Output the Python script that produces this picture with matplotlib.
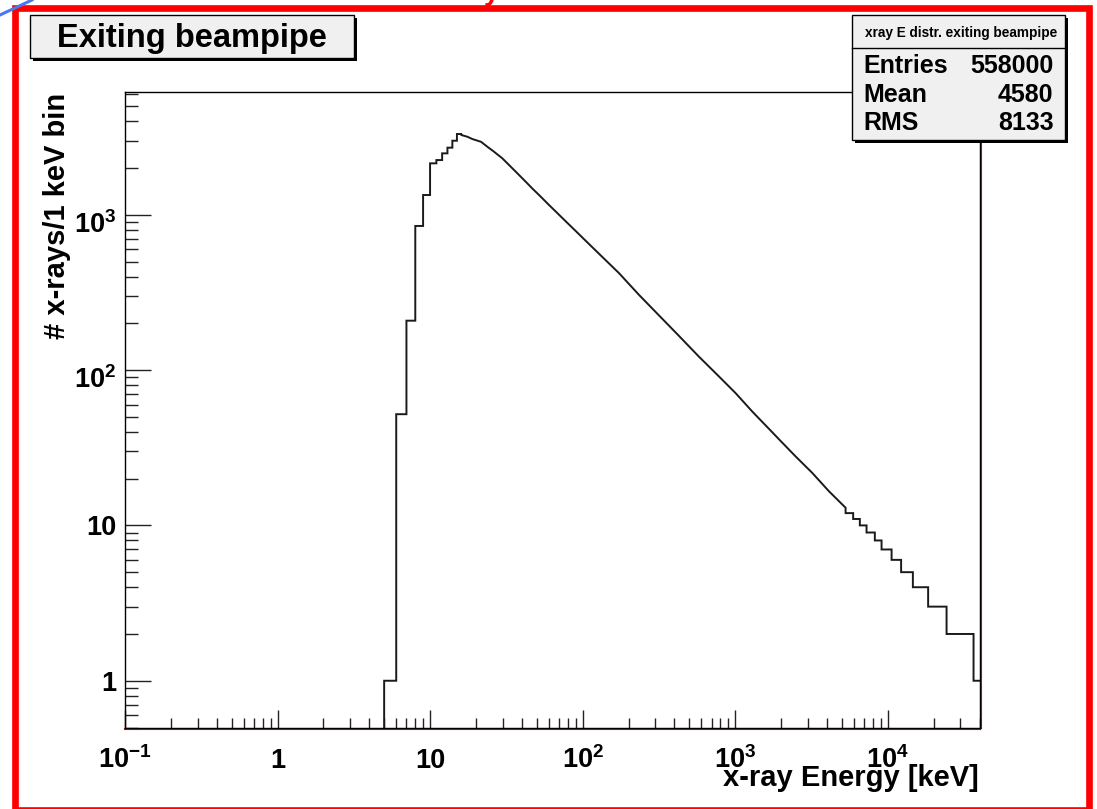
import matplotlib
matplotlib.use("Agg")
import matplotlib.pyplot as plt
import matplotlib.transforms as mtransforms
from matplotlib.ticker import FixedLocator, FixedFormatter, LogLocator, NullFormatter
from matplotlib.patches import Rectangle
from matplotlib.lines import Line2D

plt.rcParams['font.family'] = ['Liberation Sans', 'DejaVu Sans']
plt.rcParams['font.weight'] = 'bold'
plt.rcParams['mathtext.fontset'] = 'custom'
plt.rcParams['mathtext.rm'] = 'Liberation Sans:bold'
plt.rcParams['mathtext.bf'] = 'Liberation Sans:bold'
plt.rcParams['mathtext.it'] = 'Liberation Sans:bold'
plt.rcParams['mathtext.default'] = 'rm'

# ---------------- data ----------------
# low-energy 1 keV bins
low_edges = [5, 6, 7, 8, 9, 10, 11, 12, 13, 14, 15, 16]
low_counts = [1, 52, 208, 847, 1340, 2143, 2250, 2485, 2703, 2997, 3310]

# falling part (bins too narrow to resolve individually): energy, counts per keV
mid_energy = [16.04, 17.56, 18.93, 21.6, 23.74, 26.27, 29.77, 32.94, 36.44,
              41.30, 46.81, 53.13, 60.22, 68.28, 79.37, 90.11, 107.4, 128.1, 173.2,
              234.2, 316.7, 428.3, 579.1, 783.2, 1008, 1295, 1709, 1936, 2492,
              3201, 4119, 5298]
mid_counts = [3261, 3179, 3073, 2948, 2741, 2545, 2308, 2091, 1894,
              1674, 1476, 1308, 1156, 1025, 887, 786, 664, 561, 421,
              305, 225, 166, 122, 91, 71, 54.1, 40.8, 35.9, 27.8,
              21.8, 16.6, 13.0]

# high-energy integer-count tail: where the content changes, and the level
tail_edges = [5298, 5940, 6570, 7270, 8240, 9120, 10610, 12250, 14630, 18420, 24330, 36560, 40000]
tail_counts = [12, 11, 10, 9, 8, 7, 6, 5, 4, 3, 2, 1]

x_major_ticks = [0.1, 1, 10, 100, 1000, 10000]
x_tick_labels = [r'$10^{-1}$', '1', '10', r'$10^{2}$', r'$10^{3}$', r'$10^{4}$']
y_major_ticks = [1, 10, 100, 1000]
y_tick_labels = ['1', '10', r'$10^{2}$', r'$10^{3}$']

X_MIN, X_MAX = 0.1, 40000
Y_MIN, Y_MAX = 0.5, 6170

title_text = 'Exiting beampipe'
stats_title = 'xray E distr. exiting beampipe'
stats_names = ['Entries', 'Mean', 'RMS']
stats_values = ['558000', '4580', '8133']
x_title = 'x-ray Energy [keV]'
y_title = '# x-rays/1 keV bin'

# ---------------- figure ----------------
W, H = 1097, 809
fig = plt.figure(figsize=(W / 100, H / 100), dpi=100)
fig.patch.set_facecolor('white')


def fx(px):
    return px / W


def fy(py):
    return 1 - py / H


ax = fig.add_axes([fx(125), fy(727.5), fx(979.5) - fx(125), fy(92) - fy(727.5)])
ax.set_xscale('log')
ax.set_yscale('log')
ax.set_xlim(X_MIN, X_MAX)
ax.set_ylim(Y_MIN, Y_MAX)

# histogram outline
xs = [low_edges[0]]
ys = [Y_MIN]
for i, c in enumerate(low_counts):
    xs += [low_edges[i], low_edges[i + 1]]
    ys += [c, c]
xs += mid_energy
ys += mid_counts
for i, c in enumerate(tail_counts):
    xs += [tail_edges[i], tail_edges[i + 1]]
    ys += [c, c]
ax.plot(xs, ys, color='#1a1a1a', lw=1.4, solid_joinstyle='miter')

# spines
for s in ax.spines.values():
    s.set_color('black')
    s.set_linewidth(1.0)

# red accents along bottom and right of the frame
tb = mtransforms.offset_copy(ax.transAxes, fig=fig, x=0, y=-1, units='dots')
ax.add_line(Line2D([0, 1], [0, 0], transform=tb, color='red', lw=1.5, clip_on=False, zorder=1))
tr = mtransforms.offset_copy(ax.transAxes, fig=fig, x=1, y=0, units='dots')
ax.add_line(Line2D([1, 1], [0, 1], transform=tr, color='red', lw=1.5, clip_on=False, zorder=1))

# ticks
ax.xaxis.set_major_locator(FixedLocator(x_major_ticks))
ax.xaxis.set_major_formatter(FixedFormatter(x_tick_labels))
ax.xaxis.set_minor_locator(LogLocator(base=10, subs=range(2, 10), numticks=50))
ax.xaxis.set_minor_formatter(NullFormatter())
ax.yaxis.set_major_locator(FixedLocator(y_major_ticks))
ax.yaxis.set_major_formatter(NullFormatter())
ax.yaxis.set_minor_locator(LogLocator(base=10, subs=range(2, 10), numticks=50))
ax.yaxis.set_minor_formatter(NullFormatter())

ax.tick_params(which='both', direction='in', top=False, right=False, color='#222222', width=1.0)
ax.tick_params(axis='x', which='major', length=13, pad=29.5, labelsize=19.5)
ax.tick_params(axis='x', which='minor', length=7.2)
ax.tick_params(axis='y', which='major', length=18.5)
ax.tick_params(axis='y', which='minor', length=9.1)
for lbl in ax.get_xticklabels():
    lbl.set_va('baseline')
    lbl.set_fontweight('bold')

# y tick labels (ROOT-like placement)
ybt = mtransforms.blended_transform_factory(ax.transAxes, ax.transData)
for val, lab in zip(y_major_ticks, y_tick_labels):
    down = 18 if '^' in lab else 10
    t = mtransforms.offset_copy(ybt, fig=fig, x=-9, y=-down, units='dots')
    ax.text(0, val, lab, transform=t, ha='right', va='baseline', fontsize=19.5,
            fontweight='bold')

# axis titles
fig.text(fx(979), fy(786), x_title, ha='right', va='baseline', fontsize=21, fontweight='bold')
fig.text(fx(57), fy(93), y_title, ha='center', va='top', rotation=90, fontsize=21,
         fontweight='bold')


def rect_px(x0, y0, x1, y1, **kw):
    r = Rectangle((fx(x0), fy(y1)), fx(x1) - fx(x0), fy(y0) - fy(y1),
                  transform=fig.transFigure, **kw)
    fig.add_artist(r)
    return r


# title box
rect_px(33, 18, 357, 60.5, facecolor='black', edgecolor='none', zorder=5)
rect_px(30, 15, 354, 57.5, facecolor='#f0f0f0', edgecolor='black', lw=1.0, zorder=6)
fig.text(fx(192), fy(47), title_text, ha='center', va='baseline', fontsize=23.5,
         fontweight='bold', zorder=7)

# stats box
rect_px(855, 18, 1068, 143, facecolor='black', edgecolor='none', zorder=5)
rect_px(852, 15, 1065, 140, facecolor='#f0f0f0', edgecolor='black', lw=1.0, zorder=6)
fig.add_artist(Line2D([fx(852), fx(1065)], [fy(48.3), fy(48.3)], transform=fig.transFigure,
                      color='black', lw=1.0, zorder=7))
fig.text(fx(961), fy(36.5), stats_title, ha='center', va='baseline', fontsize=9.8,
         fontweight='bold', zorder=7)
row_baselines = [73.3, 101.7, 130]
for name, val, yb in zip(stats_names, stats_values, row_baselines):
    fig.text(fx(863), fy(yb), name, ha='left', va='baseline', fontsize=18,
             fontweight='bold', zorder=7)
    fig.text(fx(1053.5), fy(yb), val, ha='right', va='baseline', fontsize=18,
             fontweight='bold', zorder=7)

# slide decorations: red border, blue arc fragment, clipped red text
rect_px(15, 7.5, 1088.7, 809.7, facecolor='none', edgecolor='red', lw=4.8, zorder=8)
fig.add_artist(Line2D([fx(0), fx(32)], [fy(15), fy(0)], transform=fig.transFigure,
                      color='#4a78f0', lw=2.2, zorder=9))
fig.text(fx(492), 1.0, 'y', color='red', fontsize=20, ha='center', va='baseline',
         fontweight='bold', zorder=9)

fig.savefig('out.png', dpi=100)
